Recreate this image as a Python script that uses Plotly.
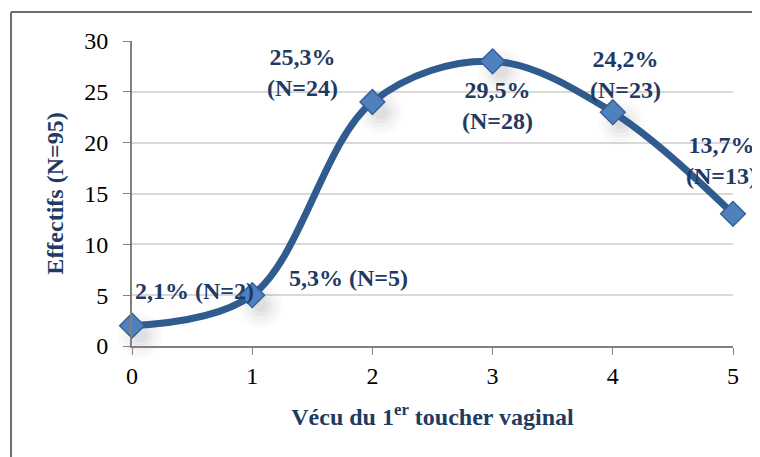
import plotly.graph_objects as go

x_vals = [0, 1, 2, 3, 4, 5]
effectifs = [2, 5, 24, 28, 23, 13]
labels = ["2,1% (N=2)", "5,3% (N=5)", "25,3%<br>(N=24)", "29,5%<br>(N=28)", "24,2%<br>(N=23)", "13,7%<br>(N=13)"]
y_ticks = [0, 5, 10, 15, 20, 25, 30]

LINE = "#2F5B8E"
FILL = "#4F81BD"
TXT = "#1F3A63"
FONT = "Liberation Serif"
FS = 24

fig = go.Figure()

# soft shadow under markers
for sz, a in [(46, 0.015), (38, 0.02), (30, 0.025), (22, 0.03), (14, 0.035)]:
    fig.add_trace(go.Scatter(
        x=[v + 0.07 for v in x_vals], y=[v - 1.0 for v in effectifs],
        mode="markers", marker=dict(symbol="circle", size=sz, color="rgba(0,0,0,%s)" % a, line=dict(width=0)),
        hoverinfo="skip", showlegend=False, cliponaxis=False))

fig.add_trace(go.Scatter(
    x=x_vals, y=effectifs, mode="lines+markers",
    line=dict(color=LINE, width=7, shape="spline", smoothing=1.0),
    marker=dict(symbol="diamond", size=19, color=FILL, line=dict(color="#35609A", width=1.5)),
    showlegend=False, cliponaxis=False))

offsets = {
    0: (1, -35, "left"),
    1: (35, -17, "left"),
    2: (-70, -30, "center"),
    3: (5, 44, "center"),
    4: (13, -38, "center"),
    5: (-12, -53, "center"),
}
for i, (xv, yv, lab) in enumerate(zip(x_vals, effectifs, labels)):
    dx, dy, al = offsets[i]
    fig.add_annotation(x=xv, y=yv, text="<b>" + lab + "</b>", showarrow=False,
                       xshift=dx, yshift=-dy, xanchor=al,
                       yanchor="middle", align="center",
                       font=dict(family=FONT, size=FS, color=TXT))

# border
fig.add_shape(type="line", xref="paper", yref="paper", x0=-0.2013, x1=1.1, y0=1.095, y1=1.095,
              line=dict(color="#6E6E6E", width=2))
fig.add_shape(type="line", xref="paper", yref="paper", x0=-0.2013, x1=-0.2013, y0=1.095, y1=-0.5,
              line=dict(color="#6E6E6E", width=2))

fig.update_layout(
    width=752, height=449,
    margin=dict(l=124, r=27, t=33, b=111),
    paper_bgcolor="white", plot_bgcolor="white",
    font=dict(family=FONT, size=FS, color="black"),
    xaxis=dict(range=[0, 5], tickvals=x_vals, ticks="outside", ticklen=7, tickcolor="#808080",
               showline=True, linecolor="#808080", linewidth=2, showgrid=False, zeroline=False,
               tickfont=dict(family=FONT, size=FS, color="black"),
               title=dict(text="<b>Vécu du 1<sup>er</sup> toucher vaginal</b>",
                          font=dict(family=FONT, size=FS, color=TXT), standoff=20)),
    yaxis=dict(range=[0, 30], tickvals=y_ticks, ticks="outside", ticklen=7, ticklabelstandoff=10,
               tickcolor="#808080", showline=True, linecolor="#808080", linewidth=2,
               showgrid=True, gridcolor="#D9D9D9", gridwidth=1.5, zeroline=False,
               tickfont=dict(family=FONT, size=FS, color="black"),
               title=dict(text="<b>Effectifs (N=95)</b>",
                          font=dict(family=FONT, size=FS, color=TXT), standoff=14)),
)

fig.write_html("out.html")
